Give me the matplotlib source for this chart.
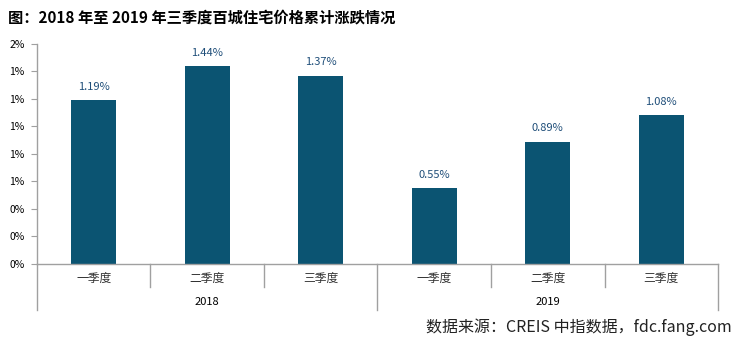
import matplotlib
matplotlib.use("Agg")
import matplotlib.pyplot as plt
import matplotlib.transforms as mtransforms
from matplotlib.ticker import FuncFormatter

plt.rcParams["font.family"] = ["Noto Sans CJK SC", "DejaVu Sans"]

# 数据
quarters = ["一季度", "二季度", "三季度", "一季度", "二季度", "三季度"]
years = ["2018", "2019"]
values = [1.19, 1.44, 1.37, 0.55, 0.89, 1.08]
y_ticks = [0.0, 0.2, 0.4, 0.6, 0.8, 1.0, 1.2, 1.4, 1.6]

BAR_COLOR = "#0b5472"
LABEL_COLOR = "#1f4e79"
GRAY = "#a0a0a0"
TEXT = "#333333"

fig = plt.figure(figsize=(7.39, 3.41), dpi=100, facecolor="white")
ax = fig.add_axes([0.050, 0.226, 0.9216, 0.645])

x = list(range(len(values)))
ax.bar(x, values, width=0.4, color=BAR_COLOR, zorder=2)
for xi, v in zip(x, values):
    ax.text(xi, v + 0.06, f"{v:.2f}%", ha="center", va="bottom",
            fontsize=8, color=LABEL_COLOR)

ax.set_xlim(-0.5, len(values) - 0.5)
ax.set_ylim(0, 1.6)
ax.set_yticks(y_ticks)
ax.yaxis.set_major_formatter(FuncFormatter(lambda v, _: f"{v:.0f}%"))
ax.tick_params(axis="y", direction="out", length=4, color=GRAY,
               labelsize=7.5, labelcolor="black", pad=5)
ax.set_xticks([])

for side in ("top", "right"):
    ax.spines[side].set_visible(False)
for side in ("left", "bottom"):
    ax.spines[side].set_color(GRAY)
    ax.spines[side].set_linewidth(1.0)

# 多级分类轴
trans = mtransforms.blended_transform_factory(ax.transData, ax.transAxes)
n_per_year = 3
for i in range(len(values) + 1):
    xs = i - 0.5
    long = i % n_per_year == 0
    ax.plot([xs, xs], [0, -0.209 if long else -0.105], transform=trans,
            color=GRAY, lw=1.0, clip_on=False)
for xi, q in zip(x, quarters):
    ax.text(xi, -0.068, q, transform=trans, ha="center", va="center",
            fontsize=8.5, color=TEXT)
for j, yr in enumerate(years):
    ax.text(j * n_per_year + 1, -0.173, yr, transform=trans,
            ha="center", va="center", fontsize=8, color="black")

fig.text(0.011, 0.95, "图：2018 年至 2019 年三季度百城住宅价格累计涨跌情况",
         ha="left", va="center", fontsize=11, fontweight="bold",
         color="black")
fig.text(0.99, 0.04, "数据来源：CREIS 中指数据，fdc.fang.com",
         ha="right", va="center", fontsize=11.5, color="#222222")

fig.savefig("out.png", dpi=100, facecolor="white")
